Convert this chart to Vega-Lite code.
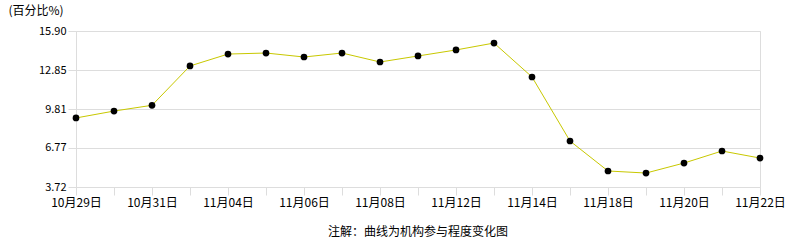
{
  "$schema": "https://vega.github.io/schema/vega-lite/v6.json",
  "autosize": "none",
  "width": 684,
  "height": 156,
  "padding": {"left": 76, "top": 31, "right": 26, "bottom": 53},
  "background": "white",
  "config": {
    "view": {"stroke": "#dddddd", "strokeWidth": 1},
    "font": "Noto Sans CJK SC"
  },
  "title": {
    "text": "注解：曲线为机构参与程度变化图",
    "orient": "bottom",
    "anchor": "middle",
    "fontSize": 12,
    "fontWeight": "normal",
    "font": "Noto Sans CJK SC",
    "color": "#000000",
    "offset": 19
  },
  "data": {
    "values": [
      {"date": "10月29日", "v": 9.11},
      {"date": "10月30日", "v": 9.65},
      {"date": "10月31日", "v": 10.10},
      {"date": "11月01日", "v": 13.17},
      {"date": "11月04日", "v": 14.10},
      {"date": "11月05日", "v": 14.18},
      {"date": "11月06日", "v": 13.87},
      {"date": "11月07日", "v": 14.18},
      {"date": "11月08日", "v": 13.48},
      {"date": "11月11日", "v": 13.95},
      {"date": "11月12日", "v": 14.42},
      {"date": "11月13日", "v": 14.96},
      {"date": "11月14日", "v": 12.31},
      {"date": "11月15日", "v": 7.31},
      {"date": "11月18日", "v": 4.97},
      {"date": "11月19日", "v": 4.81},
      {"date": "11月20日", "v": 5.59},
      {"date": "11月21日", "v": 6.53},
      {"date": "11月22日", "v": 5.98}
    ]
  },
  "encoding": {
    "x": {
      "field": "date",
      "type": "ordinal",
      "sort": null,
      "scale": {"type": "point", "padding": 0},
      "axis": {
        "title": null,
        "labelAngle": 0,
        "labelFontSize": 12,
        "labelColor": "#000000",
        "labelPadding": 2,
        "labelBaseline": "top",
        "tickColor": "#dddddd",
        "tickSize": 8,
        "domainColor": "#dddddd",
        "grid": false,
        "labelOverlap": false,
        "labelExpr": "indexof(['10月29日','10月31日','11月04日','11月06日','11月08日','11月12日','11月14日','11月18日','11月20日','11月22日'], datum.value) >= 0 ? datum.value : ''"
      }
    },
    "y": {
      "field": "v",
      "type": "quantitative",
      "scale": {"domain": [3.72, 15.90], "nice": false, "zero": false},
      "axis": {
        "values": [3.72, 6.77, 9.81, 12.85, 15.90],
        "format": ".2f",
        "title": "(百分比%)",
        "titleAngle": 0,
        "titleAlign": "left",
        "titleBaseline": "middle",
        "titleX": -68,
        "titleY": -21,
        "titleFontSize": 12,
        "titleFontWeight": "normal",
        "titleColor": "#000000",
        "labelFontSize": 11,
        "labelColor": "#000000",
        "labelPadding": 2,
        "tickColor": "#dddddd",
        "tickSize": 8,
        "domainColor": "#dddddd",
        "gridColor": "#dddddd",
        "grid": true
      }
    }
  },
  "layer": [
    {"mark": {"type": "line", "color": "#c8c800", "strokeWidth": 1}},
    {"mark": {"type": "point", "filled": true, "color": "#000000", "opacity": 1, "size": 45}}
  ]
}
